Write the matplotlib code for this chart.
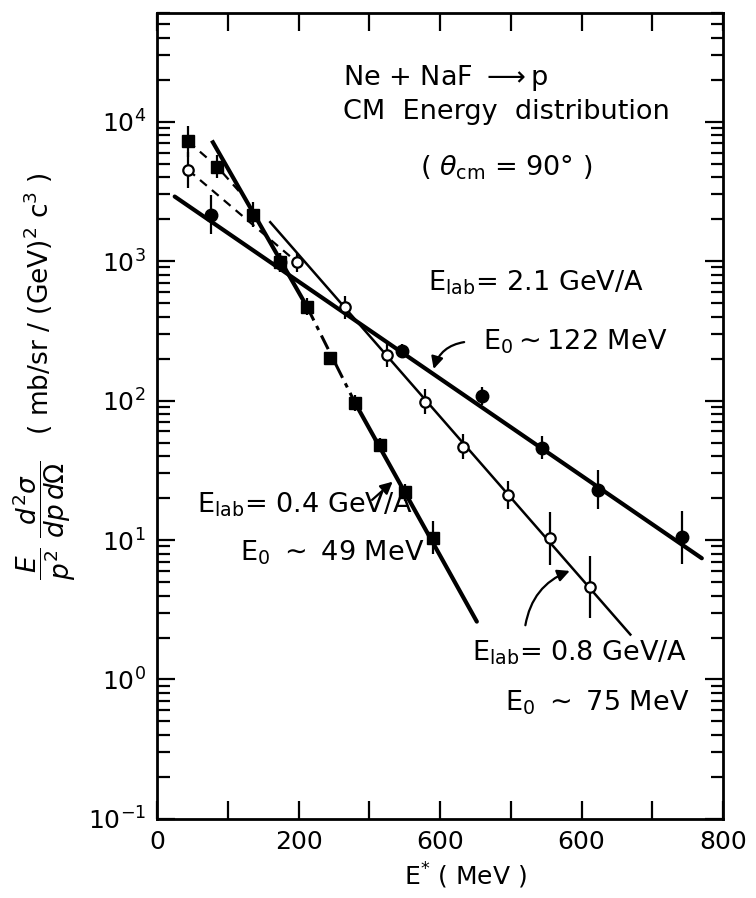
import matplotlib
matplotlib.use('Agg')
import matplotlib.pyplot as plt
import numpy as np
from matplotlib.ticker import FixedLocator, FixedFormatter, LogLocator

# proton CM energy spectra, Ne + NaF -> p at theta_cm = 90 deg
E04 = [44, 85, 136, 174, 212, 245, 280, 315, 350, 390]
V04 = [7200, 4750, 2150, 980, 470, 203, 96, 48, 22, 10.4]
D04 = [0.11, 0.08, 0.09, 0.07, 0.06, 0.04, 0.06, 0.05, 0.06, 0.12]   # error, in dex

E08 = [44, 198, 266, 325, 379, 433, 496, 555, 612]
V08 = [4500, 980, 465, 213, 98, 46.5, 21, 10.3, 4.6]
D08 = [0.13, 0.07, 0.08, 0.09, 0.09, 0.09, 0.1, 0.19, 0.22]

E21 = [76, 174, 346, 459, 544, 623, 742]
V21 = [2150, 980, 226, 107, 46, 23, 10.5]
D21 = [0.14, 0.07, 0.05, 0.065, 0.085, 0.14, 0.19]

# fitted exponentials (drawn as straight segments on the log axis)
fit21_E, fit21_V = [25, 770], [2900, 7.4]
fit08_E, fit08_V = [160, 669], [1900, 2.1]
fit04a_E, fit04a_V = [79, 212], [7100, 470]
fit04b_E, fit04b_V = [212, 280], [470, 96]
fit04c_E, fit04c_V = [280, 452], [96, 2.6]
low04_E, low04_V = [44, 85, 120], [7200, 4750, 3000]
low08_E, low08_V = [44, 198], [4500, 980]

xticks = [0, 100, 200, 300, 400, 500, 600, 700, 800]
xlabels = ['0', '', '200', '', '600', '', '600', '', '800']


def yerr(v, d):
    v = np.array(v, float)
    d = np.array(d, float)
    return [v - v * 10 ** (-d), v * 10 ** d - v]


fig = plt.figure(figsize=(7.56, 8.98), dpi=100)
ax = fig.add_axes([0.2077, 0.088, 0.7487, 0.8975])
ax.set_yscale('log')
ax.set_xlim(0, 800)
ax.set_ylim(0.1, 6e4)

k = 'black'
ax.plot(fit21_E, fit21_V, color=k, lw=3.0, solid_capstyle='round')
ax.plot(fit08_E, fit08_V, color=k, lw=1.8)
ax.plot(fit04a_E, fit04a_V, color=k, lw=3.0)
ax.plot(fit04b_E, fit04b_V, color=k, lw=2.2, ls=(0, (5, 2, 1.5, 2)))
ax.plot(fit04c_E, fit04c_V, color=k, lw=3.0, solid_capstyle='round')
ax.plot(low04_E, low04_V, color=k, lw=1.6, ls=(0, (4, 3)))
ax.plot(low08_E, low08_V, color=k, lw=1.6, ls=(0, (4, 3)))

ax.errorbar(E04, V04, yerr=yerr(V04, D04), fmt='s', color=k, ms=8.5,
            elinewidth=1.6, capsize=0)
ax.errorbar(E21, V21, yerr=yerr(V21, D21), fmt='o', color=k, ms=9,
            elinewidth=1.6, capsize=0)
ax.errorbar(E08, V08, yerr=yerr(V08, D08), fmt='o', color=k, mfc='white',
            mec=k, mew=1.6, ms=7.5, elinewidth=1.6, capsize=0)

# axes frame and ticks
for s in ax.spines.values():
    s.set_linewidth(2.0)
ax.xaxis.set_major_locator(FixedLocator(xticks))
ax.xaxis.set_major_formatter(FixedFormatter(xlabels))
ax.yaxis.set_major_locator(LogLocator(base=10, numticks=12))
ax.yaxis.set_minor_locator(LogLocator(base=10, subs=np.arange(2, 10), numticks=12))
ax.tick_params(which='both', direction='in', top=True, right=True, width=1.6,
               labelsize=18, pad=8)
ax.tick_params(which='major', length=13)
ax.tick_params(which='minor', length=9)

ax.set_xlabel(r'E$^{*}$ ( MeV )', fontsize=18)
ax.xaxis.set_label_coords(0.544, -0.052)
ax.set_ylabel(r'$\dfrac{E}{p^2}\ \dfrac{d^2\sigma}{dp\,d\Omega}$   ( mb/sr / (GeV)$^2$ c$^3$ )',
              fontsize=19)
ax.yaxis.set_label_coords(-0.14, 0.55)

fs = 19.5
ax.text(0.329, 0.919, r'Ne + NaF $\longrightarrow$p', transform=ax.transAxes,
        fontsize=fs, va='center')
ax.text(0.329, 0.877, 'CM  Energy  distribution', transform=ax.transAxes,
        fontsize=fs, va='center')
ax.text(0.465, 0.808, r'( $\theta_{\rm cm}$ = 90° )', transform=ax.transAxes,
        fontsize=fs, va='center')

ax.text(0.479, 0.656, r'E$_{\rm lab}$= 2.1 GeV/A', transform=ax.transAxes,
        fontsize=fs, va='baseline')
ax.text(0.576, 0.582, r'E$_0$$\sim$122 MeV', transform=ax.transAxes,
        fontsize=fs, va='baseline')
ax.text(0.0707, 0.380, r'E$_{\rm lab}$= 0.4 GeV/A', transform=ax.transAxes,
        fontsize=fs, va='baseline')
ax.text(0.147, 0.321, r'E$_0$ $\sim$ 49 MeV', transform=ax.transAxes,
        fontsize=fs, va='baseline')
ax.text(0.557, 0.197, r'E$_{\rm lab}$= 0.8 GeV/A', transform=ax.transAxes,
        fontsize=fs, va='baseline')
ax.text(0.615, 0.135, r'E$_0$ $\sim$ 75 MeV', transform=ax.transAxes,
        fontsize=fs, va='baseline')

arr = dict(arrowstyle='-|>', color=k, lw=1.6, mutation_scale=18)
ax.annotate('', xy=(390, 161), xytext=(438, 264),
            arrowprops=dict(arr, connectionstyle='arc3,rad=0.35'))
ax.annotate('', xy=(336, 27), xytext=(301, 18.8), arrowprops=arr)
ax.annotate('', xy=(587, 6.1), xytext=(520, 2.34),
            arrowprops=dict(arr, connectionstyle='arc3,rad=-0.3'))

fig.savefig('out.png', dpi=100)
